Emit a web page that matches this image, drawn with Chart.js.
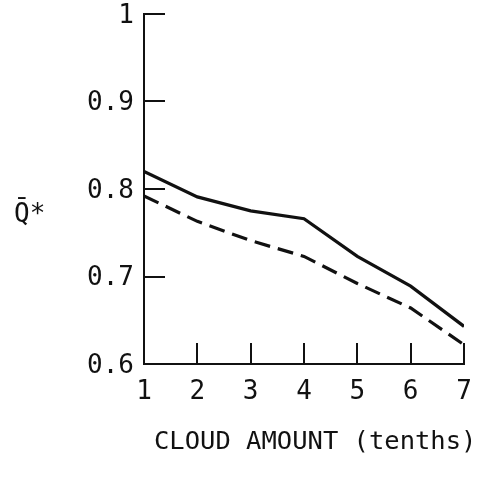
<!DOCTYPE html>
<html><head><meta charset="utf-8">
<script src="https://cdn.jsdelivr.net/npm/chart.js@4/dist/chart.umd.min.js"></script>
<style>html,body{margin:0;padding:0;background:#fff}#wrap{width:480px;height:477px}</style>
</head><body><div id="wrap"><canvas id="c"></canvas></div>
<script>
// Mean normalised value Q* against cloud amount (tenths)
const cloudAmount = [1, 2, 3, 4, 5, 6, 7];
const solidSeries = [0.820, 0.791, 0.775, 0.766, 0.723, 0.689, 0.643];
const dashedSeries = [0.792, 0.763, 0.741, 0.723, 0.692, 0.664, 0.622];
const yTickValues = [0.6, 0.7, 0.8, 0.9, 1];
const yTickLabels = ['0.6', '0.7', '0.8', '0.9', '1'];
const xTickLabels = ['1', '2', '3', '4', '5', '6', '7'];
const xTitle = 'CLOUD AMOUNT (tenths)';
const yTitle = 'Q\u0304*';

const FONT = '"DejaVu Sans Mono", monospace';
const INK = '#111';

const toPoints = vals => cloudAmount.map((x, i) => ({ x, y: vals[i] }));

// Tick marks point inward from both axes; titles sit outside the plot.
const axisDecor = {
  id: 'axisDecor',
  afterDraw(chart) {
    const { ctx, chartArea: a, scales: { x, y } } = chart;
    const len = 21;
    ctx.save();
    ctx.strokeStyle = INK;
    ctx.lineWidth = 2;
    ctx.beginPath();
    cloudAmount.slice(1).forEach(v => {
      const px = Math.round(x.getPixelForValue(v));
      ctx.moveTo(px, a.bottom);
      ctx.lineTo(px, a.bottom - len);
    });
    yTickValues.slice(1).forEach(v => {
      const py = Math.round(y.getPixelForValue(v));
      ctx.moveTo(a.left, py);
      ctx.lineTo(a.left + len, py);
    });
    ctx.stroke();

    ctx.fillStyle = INK;
    ctx.font = '25.5px ' + FONT;
    ctx.textBaseline = 'middle';
    ctx.textAlign = 'center';
    ctx.fillText(xTitle, a.left + a.width * 0.535, 442);
    ctx.font = '26px ' + FONT;
    ctx.textAlign = 'left';
    ctx.fillText(yTitle, 14, 215);
    ctx.restore();
  }
};

new Chart(document.getElementById('c'), {
  type: 'line',
  data: {
    datasets: [
      { data: toPoints(solidSeries), borderColor: INK, borderWidth: 3.2, pointRadius: 0, tension: 0, fill: false },
      { data: toPoints(dashedSeries), borderColor: INK, borderWidth: 3.2, borderDash: [16, 8], pointRadius: 0, tension: 0, fill: false }
    ]
  },
  options: {
    responsive: true,
    maintainAspectRatio: false,
    animation: false,
    layout: { padding: { top: 14, right: 16, left: 0, bottom: 0 } },
    plugins: { legend: { display: false }, tooltip: { enabled: false } },
    scales: {
      x: {
        type: 'linear', min: 1, max: 7,
        afterFit(s) { s.height = 113; s.paddingLeft = 0; s.paddingRight = 0; },
        afterBuildTicks(s) { s.ticks = cloudAmount.map(v => ({ value: v })); },
        grid: { display: false, drawTicks: false },
        border: { display: true, color: INK, width: 2 },
        ticks: {
          color: INK, font: { family: FONT, size: 26 }, padding: 13, maxRotation: 0,
          callback: (v) => xTickLabels[cloudAmount.indexOf(v)]
        }
      },
      y: {
        type: 'linear', min: 0.6, max: 1,
        afterFit(s) { s.width = 144; s.paddingTop = 0; s.paddingBottom = 0; },
        afterBuildTicks(s) { s.ticks = yTickValues.map(v => ({ value: v })); },
        grid: { display: false, drawTicks: false },
        border: { display: true, color: INK, width: 2 },
        ticks: {
          color: INK, font: { family: FONT, size: 26 }, padding: 10, labelOffset: 2,
          callback: (v) => yTickLabels[yTickValues.findIndex(t => Math.abs(t - v) < 1e-9)]
        }
      }
    }
  },
  plugins: [axisDecor]
});
</script>
</body></html>
